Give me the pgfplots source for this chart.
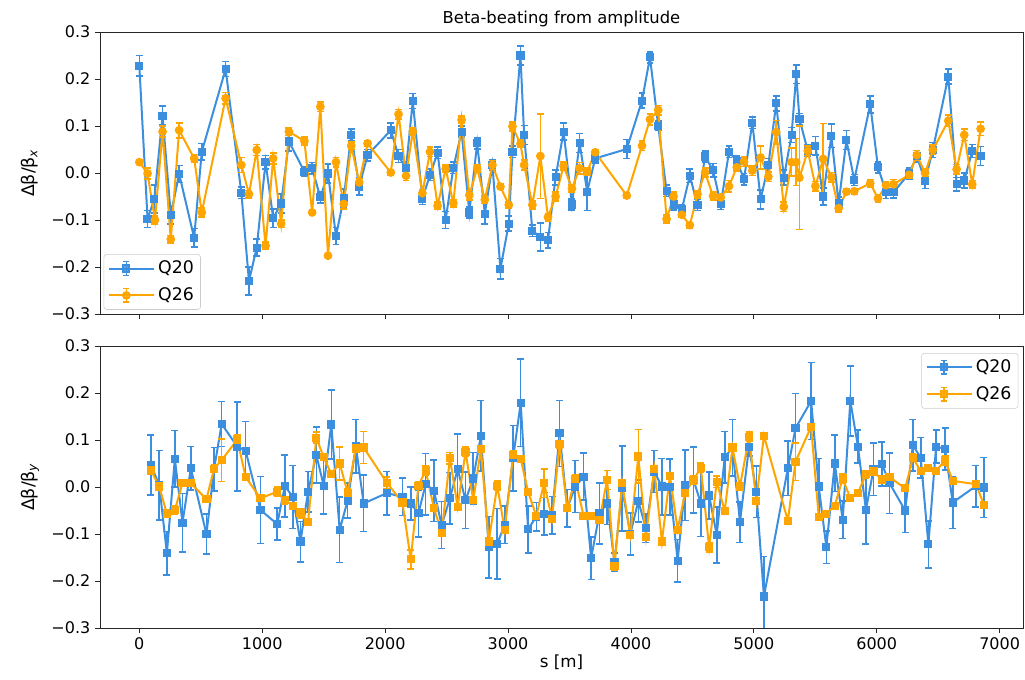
\documentclass[border=0pt]{standalone}
\usepackage{pgfplots}
\pgfplotsset{compat=1.18}
\usepackage{pgfplotstable}
\usepackage{fontspec}
\setmainfont{DejaVu Sans}
\definecolor{cblue}{RGB}{60,143,222}
\definecolor{corange}{RGB}{255,165,0}

\pgfplotstableread{
x y e
0 0.228 0.022
67 -0.098 0.018
122 -0.055 0.03
189 0.122 0.02
256 -0.089 0.02
324 -0.002 0.018
446 -0.138 0.02
508 0.045 0.018
702 0.221 0.016
830 -0.042 0.012
892 -0.230 0.03
955 -0.159 0.018
1027 0.023 0.014
1089 -0.096 0.02
1154 -0.065 0.02
1217 0.067 0.02
1343 0.003 0.01
1406 0.010 0.012
1473 -0.052 0.012
1535 -0.001 0.02
1600 -0.134 0.018
1663 -0.054 0.02
1724 0.081 0.012
1789 -0.029 0.018
1857 0.038 0.012
2046 0.091 0.016
2109 0.036 0.014
2170 0.010 0.014
2225 0.153 0.016
2303 -0.055 0.012
2365 -0.004 0.012
2427 0.043 0.012
2492 -0.100 0.018
2555 0.011 0.012
2622 0.088 0.012
2685 -0.084 0.012
2749 0.063 0.012
2811 -0.087 0.022
2873 0.017 0.012
2938 -0.204 0.022
3006 -0.108 0.016
3036 0.045 0.012
3101 0.250 0.02
3131 0.081 0.02
3198 -0.123 0.012
3263 -0.136 0.03
3325 -0.143 0.016
3387 -0.009 0.016
3452 0.088 0.018
3520 -0.067 0.012
3582 0.064 0.02
3644 -0.040 0.04
3709 0.031 0.01
3966 0.051 0.02
4090 0.154 0.016
4155 0.246 0.012
4222 0.100 0.01
4290 -0.038 0.012
4347 -0.067 0.012
4414 -0.077 0.01
4479 -0.006 0.014
4542 -0.068 0.012
4603 0.035 0.012
4668 0.006 0.014
4731 -0.066 0.012
4798 0.045 0.012
4861 0.026 0.01
4920 -0.013 0.012
4988 0.107 0.012
5055 -0.056 0.02
5118 0.017 0.014
5182 0.148 0.016
5244 -0.010 0.016
5307 0.081 0.016
5345 0.210 0.02
5371 0.115 0.012
5439 0.047 0.012
5501 0.058 0.02
5564 -0.050 0.018
5631 0.079 0.025
5690 -0.065 0.014
5753 0.070 0.02
5817 -0.015 0.012
5947 0.146 0.018
6010 0.012 0.012
6075 -0.040 0.014
6136 -0.041 0.012
6264 -0.001 0.012
6326 0.036 0.012
6393 -0.017 0.016
6456 0.049 0.016
6582 0.205 0.016
6650 -0.024 0.014
6712 -0.016 0.016
6777 0.047 0.014
6845 0.036 0.02
}\topA

\pgfplotstableread{
x y e
0 0.023 0.004
67 -0.001 0.012
127 -0.100 0.008
189 0.088 0.012
256 -0.141 0.008
324 0.091 0.016
446 0.031 0.008
508 -0.084 0.01
702 0.159 0.012
830 0.017 0.016
892 -0.045 0.008
955 0.049 0.012
1027 -0.155 0.008
1089 0.031 0.012
1154 -0.108 0.008
1217 0.088 0.008
1343 0.068 0.008
1406 -0.084 0.004
1473 0.141 0.01
1535 -0.176 0.005
1600 0.023 0.01
1663 -0.066 0.01
1724 0.058 0.008
1789 -0.020 0.008
1857 0.063 0.006
2046 0.001 0.005
2109 0.125 0.01
2170 -0.006 0.01
2225 0.088 0.008
2303 -0.043 0.008
2365 0.045 0.01
2427 -0.070 0.008
2492 0.009 0.008
2555 -0.064 0.008
2622 0.113 0.008
2685 -0.047 0.01
2749 0.010 0.008
2811 -0.057 0.008
2873 0.017 0.008
2938 -0.029 0.005
3006 -0.068 0.006
3036 0.099 0.01
3101 0.062 0.008
3131 0.017 0.01
3198 -0.068 0.008
3263 0.036 0.09
3325 -0.094 0.008
3387 -0.050 0.01
3452 0.015 0.008
3520 -0.033 0.008
3582 0.010 0.012
3644 0.003 0.008
3709 0.044 0.006
3966 -0.048 0.006
4090 0.058 0.01
4155 0.114 0.012
4222 0.134 0.01
4290 -0.098 0.008
4347 -0.050 0.01
4414 -0.089 0.006
4479 -0.111 0.006
4542 -0.045 0.008
4603 0.001 0.01
4668 -0.049 0.008
4731 -0.052 0.006
4798 -0.028 0.012
4861 0.012 0.008
4920 0.024 0.01
4988 0.005 0.01
5055 0.033 0.025
5118 -0.008 0.01
5182 0.087 0.025
5244 -0.072 0.01
5307 0.023 0.03
5345 0.023 0.05
5371 -0.010 0.11
5439 0.047 0.01
5501 -0.028 0.01
5564 0.030 0.075
5631 -0.009 0.01
5690 -0.075 0.008
5753 -0.040 0.006
5817 -0.039 0.006
5947 -0.022 0.008
6010 -0.054 0.008
6075 -0.026 0.008
6136 -0.024 0.01
6264 -0.004 0.008
6326 0.038 0.01
6393 0.000 0.008
6456 0.049 0.01
6582 0.111 0.012
6650 0.008 0.01
6712 0.081 0.012
6777 -0.024 0.008
6845 0.094 0.014
}\topB

\pgfplotstableread{
x y e
94 0.047 0.064
162 0.004 0.074
224 -0.141 0.046
289 0.060 0.06
351 -0.076 0.062
419 0.040 0.046
546 -0.100 0.043
608 0.038 0.046
670 0.134 0.048
797 0.086 0.095
865 0.077 0.062
986 -0.049 0.071
1122 -0.079 0.034
1184 0.002 0.066
1249 -0.021 0.067
1311 -0.116 0.043
1373 -0.010 0.043
1440 0.068 0.06
1500 0.003 0.06
1562 0.133 0.073
1630 -0.091 0.07
1695 -0.029 0.037
1762 0.087 0.057
1825 -0.035 0.06
2014 -0.013 0.046
2141 -0.021 0.04
2208 -0.035 0.035
2271 -0.056 0.05
2330 0.006 0.065
2397 -0.008 0.065
2460 -0.081 0.05
2527 -0.024 0.055
2590 0.038 0.075
2654 -0.028 0.06
2717 0.018 0.055
2779 0.109 0.075
2843 -0.128 0.065
2912 -0.121 0.075
2973 -0.080 0.04
3041 0.061 0.07
3103 0.179 0.093
3163 -0.090 0.05
3230 -0.063 0.03
3293 -0.057 0.045
3358 -0.060 0.04
3419 0.114 0.07
3482 -0.045 0.04
3547 0.001 0.055
3614 0.022 0.05
3676 -0.152 0.045
3744 -0.056 0.065
3806 -0.035 0.045
3866 -0.160 0.02
3928 -0.003 0.09
3995 -0.100 0.045
4060 -0.030 0.045
4122 -0.088 0.03
4190 0.033 0.045
4252 0.001 0.06
4317 0.000 0.06
4380 -0.157 0.045
4441 0.004 0.075
4509 0.015 0.07
4569 -0.035 0.07
4636 -0.018 0.05
4698 -0.102 0.06
4763 0.063 0.055
4826 0.084 0.06
4887 -0.075 0.043
4961 0.086 0.02
5020 -0.010 0.055
5082 -0.233 0.085
5277 0.040 0.058
5339 0.125 0.074
5466 0.183 0.082
5528 0.001 0.06
5590 -0.128 0.035
5658 0.050 0.06
5723 -0.070 0.04
5785 0.183 0.074
5847 0.086 0.035
5912 -0.049 0.072
5974 0.038 0.056
6042 0.049 0.047
6104 0.008 0.064
6231 -0.050 0.047
6294 0.089 0.055
6358 0.062 0.043
6420 -0.122 0.05
6483 0.086 0.035
6556 0.081 0.045
6618 -0.033 0.055
6807 0.002 0.044
6872 -0.001 0.064
}\botA

\pgfplotstableread{
x y e
94 0.036 0.008
162 0.001 0.008
224 -0.057 0.008
289 -0.049 0.008
351 0.008 0.006
419 0.008 0.006
546 -0.026 0.006
608 0.039 0.008
670 0.057 0.045
797 0.101 0.01
865 0.021 0.006
986 -0.024 0.006
1122 -0.010 0.01
1184 -0.028 0.008
1249 -0.040 0.006
1311 -0.056 0.01
1373 -0.074 0.006
1440 0.105 0.012
1500 0.063 0.006
1562 0.028 0.006
1630 0.050 0.035
1695 -0.012 0.008
1762 0.082 0.006
1825 0.084 0.034
2014 0.009 0.012
2141 -0.033 0.006
2208 -0.154 0.02
2271 0.003 0.008
2330 0.035 0.01
2397 -0.045 0.006
2460 -0.097 0.006
2527 0.061 0.012
2590 -0.042 0.006
2654 0.075 0.01
2717 -0.028 0.006
2779 0.080 0.006
2843 -0.116 0.006
2912 0.003 0.01
2973 -0.091 0.006
3041 0.068 0.01
3103 0.060 0.006
3163 -0.010 0.006
3230 -0.062 0.006
3293 0.008 0.03
3358 -0.068 0.006
3419 0.091 0.008
3482 -0.045 0.006
3547 0.017 0.01
3614 -0.061 0.006
3676 -0.061 0.006
3744 -0.070 0.006
3806 0.015 0.02
3866 -0.168 0.01
3928 0.009 0.006
3995 -0.102 0.006
4060 0.065 0.057
4122 -0.106 0.006
4190 0.038 0.006
4252 -0.116 0.006
4317 0.024 0.006
4380 -0.091 0.006
4441 -0.012 0.006
4509 0.015 0.008
4569 0.041 0.01
4636 -0.128 0.01
4698 0.011 0.012
4763 -0.051 0.006
4826 0.084 0.006
4887 0.001 0.006
4961 0.107 0.01
5020 -0.029 0.006
5082 0.109 0.006
5277 -0.072 0.006
5339 0.054 0.04
5466 0.128 0.006
5528 -0.063 0.006
5590 -0.057 0.006
5658 -0.040 0.006
5723 0.018 0.01
5785 -0.024 0.006
5847 -0.013 0.006
5912 0.027 0.008
5974 0.033 0.006
6042 0.016 0.006
6104 0.021 0.006
6231 -0.003 0.006
6294 0.062 0.008
6358 0.034 0.006
6420 0.041 0.006
6483 0.034 0.006
6556 0.057 0.01
6618 0.013 0.006
6807 0.006 0.006
6872 -0.038 0.006
}\botB

\pgfplotsset{
  myaxis/.style={
    scale only axis, width=692.25pt, height=211.5pt,
    xmin=-320, xmax=7190, ymin=-0.3, ymax=0.3,
    xtick={0,1000,2000,3000,4000,5000,6000,7000},
    ytick={-0.3,-0.2,-0.1,0,0.1,0.2,0.3},
    yticklabels={−0.3,−0.2,−0.1,0.0,0.1,0.2,0.3},
    tick align=outside, tick pos=left, major tick length=3.75pt,
    every tick/.style={black!85, line width=0.6pt},
    axis line style={black!85, line width=0.6pt},
    tick label style={font=\fontsize{12}{14}\selectfont},
    ylabel style={at={(axis description cs:-0.0758,0.5)}, anchor=center, font=\fontsize{13}{15}\selectfont},
    legend style={font=\fontsize{13}{15}\selectfont, draw=black!20, rounded corners=2pt, fill=white, fill opacity=0.8, text opacity=1, inner sep=3pt, row sep=5pt},
    legend cell align=left,
    legend image code/.code={%
      \path (0cm,0cm) -- (1.2cm,0cm);
      \draw[mark repeat=2,mark phase=2,##1] plot coordinates {(0cm,0cm) (0.46cm,0cm) (0.92cm,0cm)};
      \draw[##1,mark=none,line width=1.2pt] (0.46cm,-0.18cm) -- (0.46cm,0.18cm) (0.38cm,-0.18cm) -- (0.54cm,-0.18cm) (0.38cm,0.18cm) -- (0.54cm,0.18cm);
    },
  },
  q20/.style={color=cblue, line width=1.5pt, mark=square*, mark size=2.3pt, mark options={solid},
    error bars/.cd, y dir=both, y explicit, error bar style={line width=1.2pt, cblue}, error mark options={rotate=90, mark size=2.6pt, line width=1.2pt, cblue}},
  q26/.style={color=corange, line width=1.5pt, mark=*, mark size=2.5pt, mark options={solid},
    error bars/.cd, y dir=both, y explicit, error bar style={line width=1.2pt, corange}, error mark options={rotate=90, mark size=2.6pt, line width=1.2pt, corange}},
  q26s/.style={color=corange, line width=1.5pt, mark=square*, mark size=2.3pt, mark options={solid},
    error bars/.cd, y dir=both, y explicit, error bar style={line width=1.2pt, corange}, error mark options={rotate=90, mark size=2.6pt, line width=1.2pt, corange}},
}

\begin{document}
\begin{tikzpicture}
\path[use as bounding box] (0pt,0pt) rectangle (768.75pt,510pt);
\begin{axis}[myaxis, at={(75pt,274.5pt)}, anchor=south west,
  xticklabels={},
  ylabel={Δβ/β\textsubscript{\textit{x}}},
  title={Beta-beating from amplitude},
  every axis title shift=0pt,
  title style={at={(axis description cs:0.5,1)}, anchor=base, yshift=6.5pt, font=\fontsize{12.3}{14}\selectfont},
  legend style={at={(0.004,0.015)}, anchor=south west}]
\addplot[q20] table[x=x,y=y,y error=e] {\topA};
\addlegendentry{Q20}
\addplot[q26] table[x=x,y=y,y error=e] {\topB};
\addlegendentry{Q26}
\end{axis}
\begin{axis}[myaxis, at={(75pt,39pt)}, anchor=south west,
  xticklabels={0,1000,2000,3000,4000,5000,6000,7000},
  ylabel={Δβ/β\textsubscript{\textit{y}}},
  xlabel={s [m]},
  xlabel style={at={(axis description cs:0.5,0)}, anchor=base, yshift=-30pt, font=\fontsize{12.5}{14}\selectfont},
  legend style={at={(0.995,0.975)}, anchor=north east}]
\addplot[q20] table[x=x,y=y,y error=e] {\botA};
\addlegendentry{Q20}
\addplot[q26s] table[x=x,y=y,y error=e] {\botB};
\addlegendentry{Q26}
\end{axis}
\end{tikzpicture}
\end{document}
